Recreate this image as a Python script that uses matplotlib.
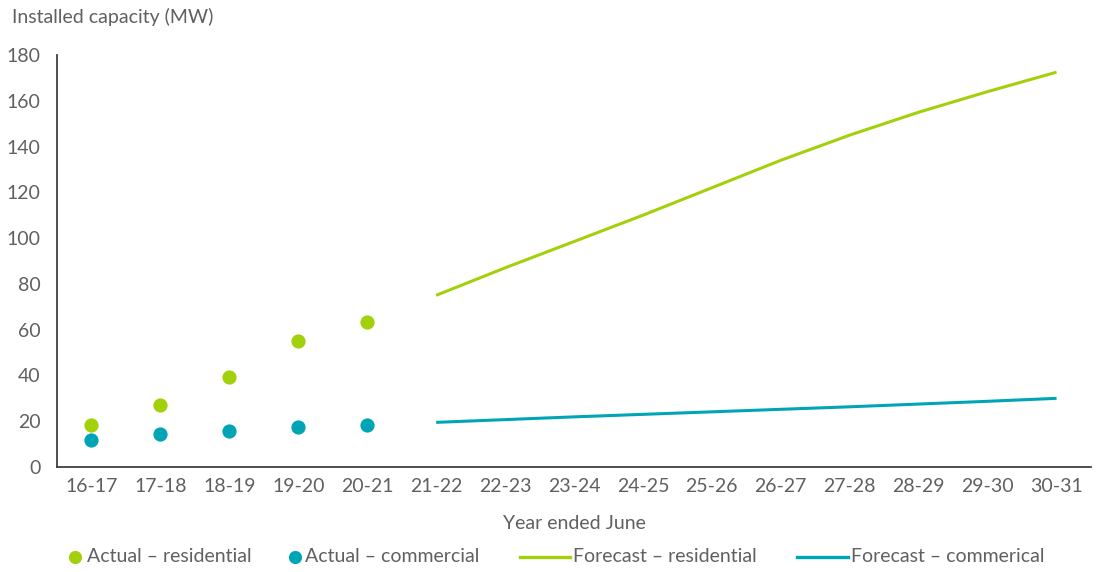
import numpy as np
import matplotlib.pyplot as plt
from matplotlib.lines import Line2D

# Installed capacity, actual and forecast, by year ended June
years = ["16-17", "17-18", "18-19", "19-20", "20-21", "21-22", "22-23", "23-24",
         "24-25", "25-26", "26-27", "27-28", "28-29", "29-30", "30-31"]
actual_years = years[:5]
forecast_years = years[5:]

actual_residential = [18.2, 27.1, 39.2, 55.0, 63.2]
actual_commercial = [11.8, 14.3, 15.9, 17.5, 18.5]
forecast_residential = [75.0, 87.0, 98.5, 110.0, 122.0, 134.0, 145.0, 155.0, 164.0, 172.5]
forecast_commercial = [19.5, 20.7, 21.9, 23.0, 24.1, 25.2, 26.3, 27.5, 28.7, 30.0]

GREEN = "#a2d10b"
TEAL = "#00a5b5"
TEXT = "#606060"
FS = 14

plt.rcParams["font.family"] = ["Lato", "DejaVu Sans"]

W, H = 1097, 572
fig = plt.figure(figsize=(W / 100, H / 100), dpi=100)
ax = fig.add_axes([57 / W, 1 - 467 / H, (1091 - 57) / W, (467 - 55) / H])

xpos = {y: i for i, y in enumerate(years)}
xa = [xpos[y] for y in actual_years]
xf = [xpos[y] for y in forecast_years]

ax.scatter(xa, actual_residential, s=105, color=GREEN, zorder=3, linewidths=0)
ax.scatter(xa, actual_commercial, s=105, color=TEAL, zorder=3, linewidths=0)
ax.plot(xf, forecast_residential, color=GREEN, lw=2.2, solid_capstyle="butt")
ax.plot(xf, forecast_commercial, color=TEAL, lw=2.2, solid_capstyle="butt")

ax.set_xlim(-0.5, 14.5)
ax.set_ylim(0, 180)
ax.set_xticks(range(len(years)))
ax.set_xticklabels(years)
ax.set_yticks(np.arange(0, 181, 20))
ax.tick_params(axis="both", length=0, labelsize=FS, colors=TEXT)
ax.tick_params(axis="y", pad=12)
ax.tick_params(axis="x", pad=8)

for s in ["top", "right"]:
    ax.spines[s].set_visible(False)
for s in ["left", "bottom"]:
    ax.spines[s].set_color("#404040")
    ax.spines[s].set_linewidth(1.3)

fig.text(12 / W, 1 - 17 / H, "Installed capacity (MW)", fontsize=FS, color=TEXT,
         ha="left", va="center")
ax.set_xlabel("Year ended June", fontsize=FS, color=TEXT, labelpad=14)

# legend row drawn by hand so dots sit tight against their labels
ly = 1 - 557 / H
legend_items = [
    ("dot", GREEN, 75, 87, "Actual \u2013 residential"),
    ("dot", TEAL, 295, 305, "Actual \u2013 commercial"),
    ("line", GREEN, (520, 570), 573, "Forecast \u2013 residential"),
    ("line", TEAL, (797, 848), 851, "Forecast \u2013 commerical"),
]
for kind, col, hx, tx, label in legend_items:
    if kind == "dot":
        fig.add_artist(Line2D([hx / W], [ly], ls="none", marker="o", ms=9.5,
                              color=col, mew=0, transform=fig.transFigure))
    else:
        fig.add_artist(Line2D([hx[0] / W, hx[1] / W], [ly, ly], color=col,
                              lw=2.4, transform=fig.transFigure))
    fig.text(tx / W, ly, label, fontsize=FS, color=TEXT, ha="left", va="center")

fig.savefig("out.png", dpi=100, facecolor="white")
